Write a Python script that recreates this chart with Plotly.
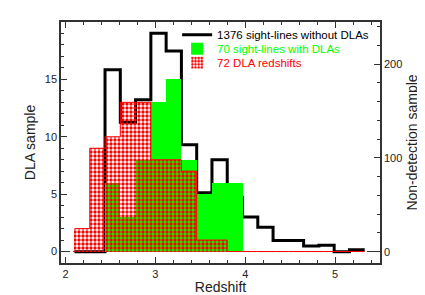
import numpy as np
import plotly.graph_objects as go

# bin edges (redshift), 20 bins of width 0.17 from 2.1 to 5.5
bin_start = 2.1
bin_width = 0.17
n_bins = 20
edges = [round(bin_start + bin_width * k, 3) for k in range(n_bins + 1)]

# Non-detection sample: 1376 sight-lines without DLAs (right axis), bins 0..18
nodla_counts = [0, 0, 194, 138, 162, 233, 214, 114, 63, 98, 58, 37, 26, 12, 12, 6, 7, 0, 2]
# 70 sight-lines with DLAs (left axis)
withdla_counts = [0, 0, 6, 3, 8, 13, 15, 8, 5, 6, 6, 0, 0, 0, 0, 0, 0, 0, 0]
# 72 DLA redshifts (left axis)
dla_z_counts = [2, 9, 10, 13, 13, 8, 8, 7, 1, 1, 0, 0, 0, 0, 0, 0, 0, 0, 0]

name_nodla = "1376 sight-lines without DLAs"
name_with = "70 sight-lines with DLAs"
name_dlaz = "72 DLA redshifts"

GREEN = "#00ff00"
RED = "#ff0000"

nb = len(nodla_counts)
centers = [edges[i] + bin_width / 2 for i in range(nb)]
step_x = edges[: nb + 1]

fig = go.Figure()

# black step histogram on the main (right-side) axis, drawn first
fig.add_trace(go.Scatter(
    x=step_x, y=nodla_counts + [nodla_counts[-1]],
    mode="lines", line=dict(color="black", width=3, shape="hv"),
    name=name_nodla, yaxis="y", legend="legend",
))

# green bars on overlay axis (left side)
fig.add_trace(go.Bar(
    x=centers, y=withdla_counts, width=bin_width,
    marker=dict(color=GREEN, line=dict(width=0)),
    name="<span style='color:#00ff00'>" + name_with + "</span>",
    yaxis="y2", legend="legend2",
))

# red checkered bars
fig.add_trace(go.Bar(
    x=centers, y=dla_z_counts, width=bin_width,
    marker=dict(color="rgba(0,0,0,0)", line=dict(width=0),
                pattern=dict(shape=".", fgcolor=RED, bgcolor="rgba(0,0,0,0)",
                             size=4, solidity=0.55, fgopacity=1)),
    name="<span style='color:#ff0000'>" + name_dlaz + "</span>",
    yaxis="y2", legend="legend3",
))

# red outline step
fig.add_trace(go.Scatter(
    x=step_x, y=dla_z_counts + [dla_z_counts[-1]],
    mode="lines", line=dict(color=RED, width=1, shape="hv"),
    yaxis="y2", showlegend=False, hoverinfo="skip",
))

font = "Liberation Sans, Arial, Helvetica, sans-serif"

def leg(yc):
    return dict(
        x=0.364, xanchor="left", y=yc, yanchor="middle",
        bgcolor="rgba(0,0,0,0)", borderwidth=0,
        font=dict(size=11.5, family=font, color="black"),
        itemwidth=30,
    )

# the page body offsets the figure by 8px, so the figure is sized to end at the window edge
fig.update_layout(
    autosize=False,
    width=417, height=287,
    margin=dict(l=53, r=45, t=12, b=32),
    paper_bgcolor="white", plot_bgcolor="white",
    font=dict(family=font, size=11, color="#222"),
    barmode="overlay", bargap=0,
    showlegend=True,
    legend=leg(0.947), legend2=leg(0.889), legend3=leg(0.831),
    xaxis=dict(
        range=[1.95, 5.5], tickvals=[2, 3, 4, 5], ticks="inside", ticklen=6,
        tickwidth=1, tickcolor="#333", automargin=False,
        minor=dict(dtick=0.2, ticks="inside", ticklen=3, tickcolor="#333"),
        showline=True, linecolor="#333", linewidth=1.5, mirror="ticks",
        showgrid=False, zeroline=False,
        title=dict(text="Redshift", font=dict(size=14), standoff=4),
        tickfont=dict(size=11),
    ),
    yaxis=dict(
        side="right", range=[-12, 245], tickvals=[0, 100, 200],
        ticks="inside", ticklen=6, tickcolor="#333", automargin=False,
        minor=dict(dtick=20, ticks="inside", ticklen=3, tickcolor="#333"),
        showline=True, linecolor="#333", linewidth=1.5,
        showgrid=False, zeroline=False,
        title=dict(text="Non-detection sample", font=dict(size=14), standoff=6),
        tickfont=dict(size=11),
    ),
    yaxis2=dict(
        overlaying="y", side="left", range=[-1, 20], tickvals=[0, 5, 10, 15],
        ticks="inside", ticklen=6, tickcolor="#333", automargin=False,
        minor=dict(dtick=1, ticks="inside", ticklen=3, tickcolor="#333"),
        showline=True, linecolor="#333", linewidth=1.5,
        showgrid=False, zeroline=False,
        title=dict(text="DLA sample", font=dict(size=14), standoff=6),
        tickfont=dict(size=11),
    ),
    shapes=[dict(type="line", xref="paper", x0=0, x1=1, yref="y2", y0=0, y1=0,
                 line=dict(color="#333", width=1, dash="dashdot"), layer="below")],
)

fig.write_html("out.html")
